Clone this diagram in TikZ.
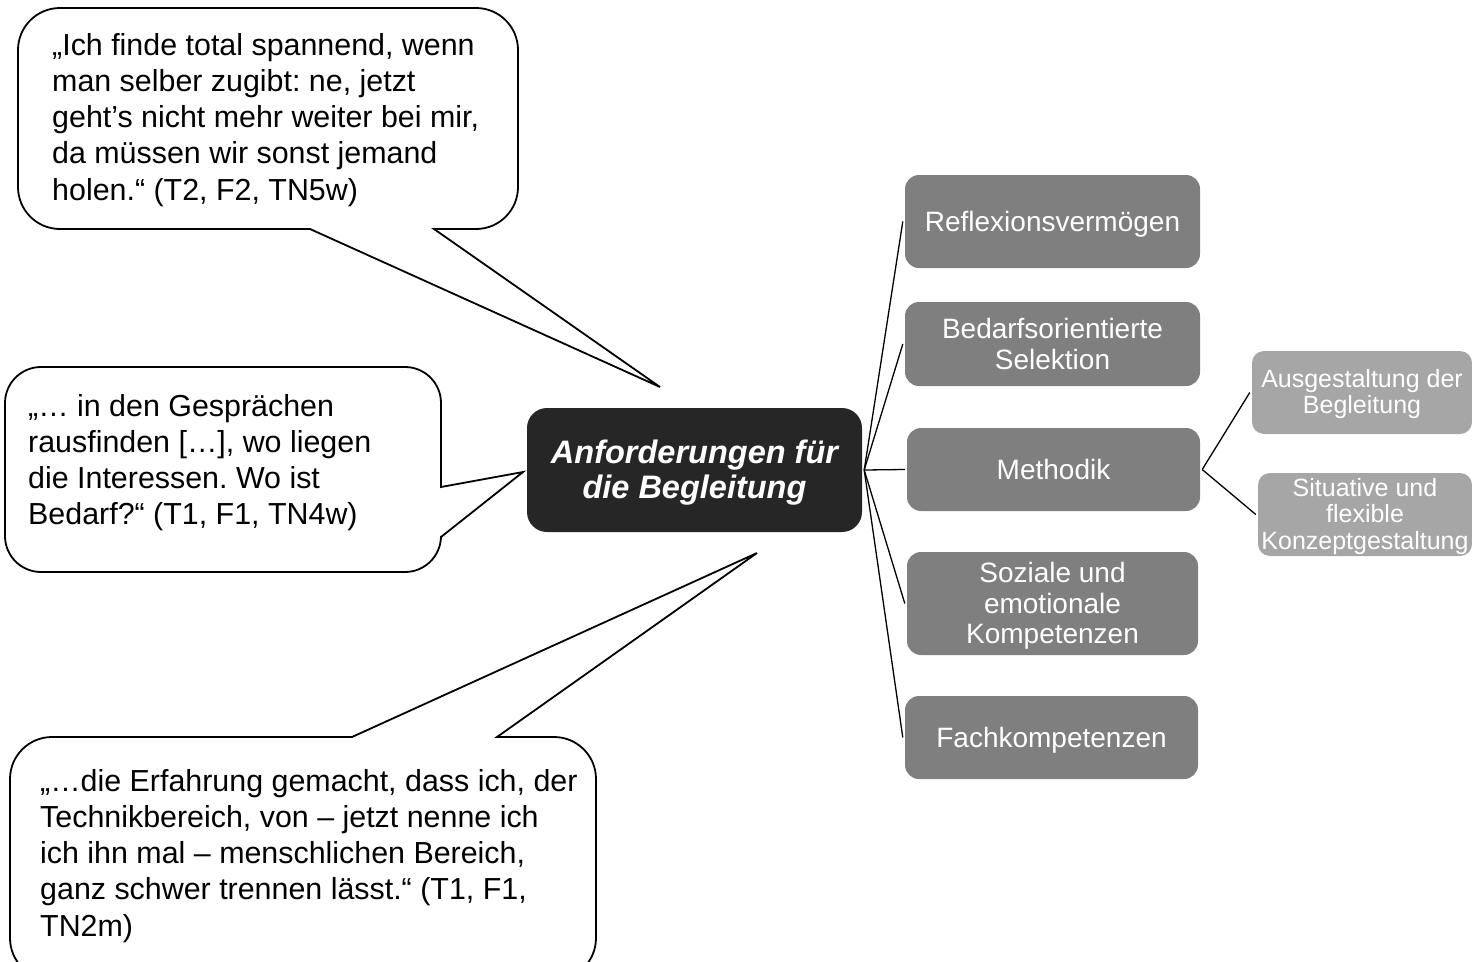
\documentclass[tikz,border=0pt]{standalone}
\usepackage{fontspec}
\setmainfont{Liberation Sans}
\frenchspacing
\definecolor{cdark}{HTML}{262626}
\definecolor{cmid}{HTML}{7F7F7F}
\definecolor{clight}{HTML}{A6A6A6}
\newcommand\topstrut{\rule{0pt}{0.905em}}
\newcommand\botstrut{\rule[-0.212em]{0pt}{0pt}}
\newcommand\firsth[1]{\rule{0pt}{#1em}}
\tikzset{
  oneline/.style={execute at begin node=\topstrut, execute at end node=\botstrut},
  mainbox/.style={rectangle, rounded corners=14, fill=cmid, text=white, align=center, inner sep=0pt,
    font=\fontsize{28}{30.5}\selectfont},
  subbox/.style={rectangle, rounded corners=12, fill=clight, text=white, align=center, inner sep=0pt,
    font=\fontsize{25}{26.5}\selectfont},
  centerbox/.style={rectangle, rounded corners=20, fill=cdark, text=white, align=center, inner sep=0pt,
    font=\fontsize{32.5}{35}\selectfont\bfseries\itshape},
  quote/.style={anchor=north west, align=left, inner sep=0pt, font=\fontsize{30.4}{36.2}\selectfont},
  bubble/.style={draw=black, line width=1.8, fill=white, line join=miter},
  link/.style={draw=black, line width=1.3}
}
\begin{document}
\begin{tikzpicture}[x=1pt,y=-1pt]
\useasboundingbox (0,0) rectangle (1472,961);
\clip (0,0) rectangle (1472,961);

% callout shapes
\draw[bubble] (310,229) [rounded corners=42] -- (18,229) -- (18,8) -- (518,8) -- (518,229) [sharp corners] -- (434,229) -- (660,387) -- cycle;
\draw[bubble] (441,487) [rounded corners=36] -- (441,367) -- (5,367) -- (5,572) -- (441,572) [sharp corners] -- (441,537) -- (523,472) -- cycle;
\draw[bubble] (352,737) [rounded corners=42] -- (10,737) -- (10,980) -- (596,980) -- (596,737) [sharp corners] -- (497,737) -- (757,553) -- cycle;

% quotes
\node[quote] (q1) at (52,33) {„Ich finde total spannend, wenn\\man selber zugibt: ne, jetzt\\geht’s nicht mehr weiter bei mir,\\da müssen wir sonst jemand\\holen.“ (T2, F2, TN5w)};
\node[quote] (q2) at (28,394) {„… in den Gesprächen\\rausfinden […], wo liegen\\die Interessen. Wo ist\\Bedarf?“ (T1, F1, TN4w)};
\node[quote] (q3) at (40,769) {„…die Erfahrung gemacht, dass ich, der\\Technikbereich, von – jetzt nenne ich\\ich ihn mal – menschlichen Bereich,\\ganz schwer trennen lässt.“ (T1, F1,\\TN2m)};

% center
\node[centerbox, minimum width=335, minimum height=124] (c) at (694.5,470) {\firsth{0.914}Anforderungen für\\die Begleitung};

% main nodes
\node[mainbox, oneline, minimum width=295, minimum height=93] (r1) at (1052.5,221.5) {Reflexionsvermögen};
\node[mainbox, minimum width=295, minimum height=84] (r2) at (1052.5,344) {Bedarfsorientierte\\Selektion};
\node[mainbox, oneline, minimum width=293, minimum height=83] (r3) at (1053.5,469.5) {Methodik};
\node[mainbox, minimum width=291, minimum height=103] (r4) at (1052.5,603.5) {\firsth{0.91}Soziale und\\emotionale\\Kompetenzen};
\node[mainbox, oneline, minimum width=293, minimum height=83] (r5) at (1051.5,737.5) {Fachkompetenzen};

% sub nodes
\node[subbox, minimum width=220, minimum height=83] (s1) at (1362,392.5) {\firsth{0.83}Ausgestaltung der\\Begleitung};
\node[subbox, minimum width=214, minimum height=83] (s2) at (1365,514.5) {\firsth{0.85}Situative und\\flexible\\Konzeptgestaltung};

% connectors
\foreach \n in {r1,r2,r3,r4,r5} \draw[link] ([xshift=2]c.east) -- ([xshift=-2]\n.west);
\draw[link] ([xshift=2]r3.east) -- ([xshift=-2]s1.west);
\draw[link] ([xshift=2]r3.east) -- ([xshift=-2]s2.west);
\end{tikzpicture}
\end{document}
